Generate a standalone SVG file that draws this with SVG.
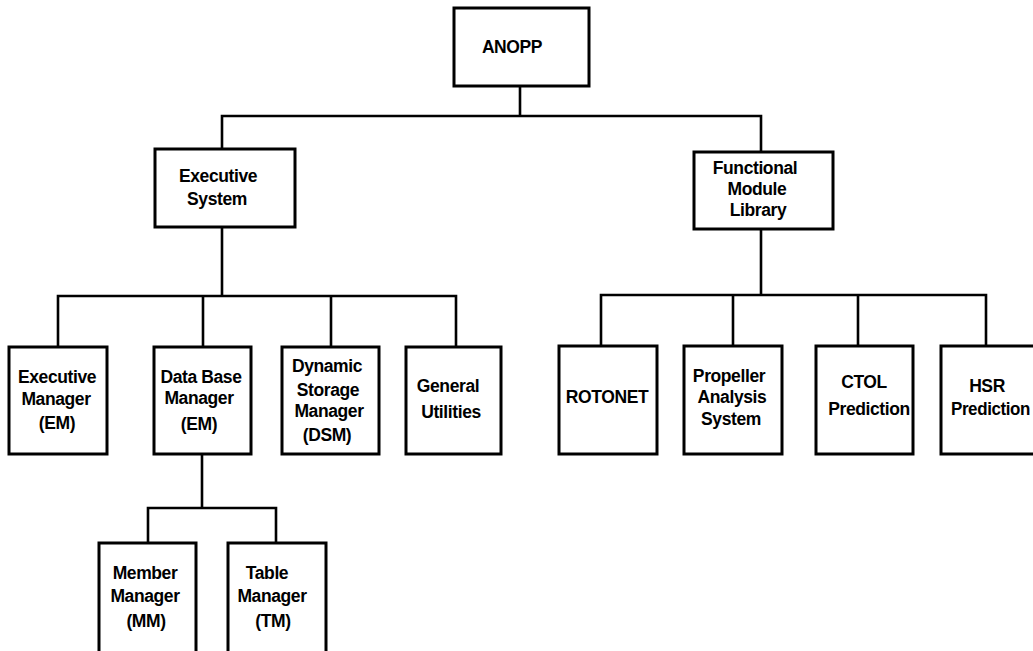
<svg xmlns="http://www.w3.org/2000/svg" width="1033" height="651" viewBox="0 0 1033 651">
<style>
.box{fill:#fff;stroke:#000;stroke-width:3}
.ln{fill:none;stroke:#000;stroke-width:2.6;stroke-linecap:square}
text{font-family:"Liberation Sans",Arial,Helvetica,sans-serif;font-weight:bold;font-size:17.5px;fill:#000;text-anchor:middle;letter-spacing:-0.4px}
</style>
<rect width="1033" height="651" fill="#fff"/>
<g id="connectors">
<path class="ln" d="M520,86V116M222,116H761M222,116V149M761,116V152"/>
<path class="ln" d="M222,227V296M58,296H456M58,296V347M203,296V347M331,296V347M456,296V347"/>
<path class="ln" d="M761,229V295M601,295H986M601,295V346M733,295V346M858,295V346M986,295V346"/>
<path class="ln" d="M202,454V508M148,508H276M148,508V543M276,508V543"/>
</g>
<g id="anopp"><rect class="box" x="454" y="8" width="135" height="78"/><text x="512" y="53">ANOPP</text></g>
<g id="executive-system"><rect class="box" x="155" y="149" width="140" height="78"/><text x="218" y="182">Executive</text><text x="217" y="205">System</text></g>
<g id="functional-module-library"><rect class="box" x="694" y="152" width="139" height="77"/><text x="755" y="174">Functional</text><text x="757" y="195">Module</text><text x="758" y="216">Library</text></g>
<g id="executive-manager"><rect class="box" x="9" y="347" width="98" height="107"/><text x="57" y="383">Executive</text><text x="56" y="405">Manager</text><text x="57" y="429">(EM)</text></g>
<g id="data-base-manager"><rect class="box" x="154" y="347" width="97" height="107"/><text x="201" y="383">Data Base</text><text x="199" y="404">Manager</text><text x="199" y="430">(EM)</text></g>
<g id="dynamic-storage-manager"><rect class="box" x="282" y="347" width="97" height="107"/><text x="327" y="372">Dynamic</text><text x="328" y="396">Storage</text><text x="329" y="417">Manager</text><text x="327" y="441">(DSM)</text></g>
<g id="general-utilities"><rect class="box" x="406" y="347" width="95" height="107"/><text x="448" y="392">General</text><text x="451" y="418">Utilities</text></g>
<g id="member-manager"><rect class="box" x="99" y="543" width="97" height="115"/><text x="145" y="579">Member</text><text x="145" y="602">Manager</text><text x="146" y="627">(MM)</text></g>
<g id="table-manager"><rect class="box" x="228" y="543" width="98" height="115"/><text x="267" y="579">Table</text><text x="272" y="602">Manager</text><text x="273" y="627">(TM)</text></g>
<g id="rotonet"><rect class="box" x="559" y="346" width="98" height="108"/><text x="607" y="403">ROTONET</text></g>
<g id="propeller-analysis-system"><rect class="box" x="684" y="346" width="98" height="108"/><text x="729" y="382">Propeller</text><text x="732" y="403">Analysis</text><text x="731" y="425">System</text></g>
<g id="ctol-prediction"><rect class="box" x="816" y="346" width="97" height="108"/><text x="864" y="388">CTOL</text><text x="869" y="415">Prediction</text></g>
<g id="hsr-prediction"><rect class="box" x="941" y="346" width="99" height="108"/><text x="987" y="392">HSR</text><text x="951" y="415" style="text-anchor:start" textLength="79" lengthAdjust="spacingAndGlyphs">Prediction</text></g>
</svg>
